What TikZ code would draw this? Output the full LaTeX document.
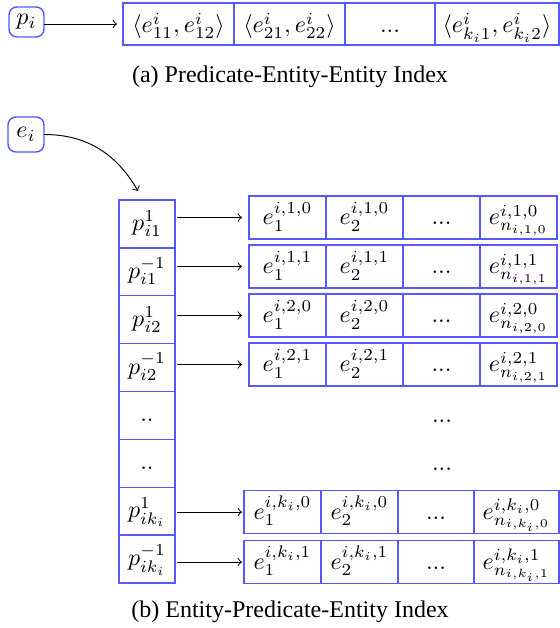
\documentclass[tikz,border=0pt]{standalone}
\usepackage[no-math]{fontspec}
\newfontfamily\capfont{Liberation Serif}
\newcommand\upx{0.41667pt}
\definecolor{bbl}{RGB}{88,88,255}
\begin{document}
\begin{tikzpicture}[x=\upx, y=-\upx,
  every node/.style={inner sep=0pt, outer sep=0pt},
  rbox/.style={draw=bbl, line width=0.6pt, rounded corners=3.3pt},
  cell/.style={draw=bbl, line width=0.6pt, anchor=west},
  tcell/.style={cell, minimum width=#1*\upx, minimum height=42*\upx, text height=10pt, text depth=2.5pt},
  ccell/.style={cell, anchor=north, minimum width=56*\upx, minimum height=47.875*\upx, text height=8pt, text depth=2.6pt},
  rcell/.style={cell, minimum width=#1*\upx, minimum height=43*\upx, text height=9pt, text depth=2.8pt},
  dotsnode/.style={text height=9pt, text depth=2.8pt},
  arr/.style={->, line width=0.4pt},
  captext/.style={font=\capfont}
]
\useasboundingbox (0,0) rectangle (560,628);

% ---------- (a) ----------
\node[rbox, minimum width=35*\upx, minimum height=30*\upx] (pi) at (26.5,22) {$p_i$};
\node[tcell=111] (a1) at (123,24) {$\langle e^i_{11}, e^i_{12}\rangle$};
\node[tcell=111] (a2) at (a1.east) {$\langle e^i_{21}, e^i_{22}\rangle$};
\node[tcell=90]  (a3) at (a2.east) {$...$};
\node[tcell=124] (a4) at (a3.east) {$\langle e^i_{k_i1}, e^i_{k_i2}\rangle$};
\draw[arr] (pi.east |- a1.west) -- ([xshift=-6*\upx]a1.west);
\node[captext] (capa) at (290,77) {(a) Predicate-Entity-Entity Index};

% ---------- (b) ----------
\node[rbox, minimum width=36*\upx, minimum height=35*\upx] (ei) at (26,134.5) {$e_i$};

\node[ccell] (c1) at (147,200) {$p^{1}_{i1}$};
\node[ccell] (c2) at (c1.south) {$p^{-1}_{i1}$};
\node[ccell] (c3) at (c2.south) {$p^{1}_{i2}$};
\node[ccell] (c4) at (c3.south) {$p^{-1}_{i2}$};
\node[ccell] (c5) at (c4.south) {$..$};
\node[ccell] (c6) at (c5.south) {$..$};
\node[ccell] (c7) at (c6.south) {$p^{1}_{ik_i}$};
\node[ccell] (c8) at (c7.south) {$p^{-1}_{ik_i}$};

\draw[arr] (ei.east) to[out=0,in=120] ([shift={(-9,-9)}]c1.north);

% rows 1-4
\node[rcell=77] (r1a) at (249,217.5) {$e_1^{i,1,0}$};
\node[rcell=77] (r1b) at (r1a.east) {$e_2^{i,1,0}$};
\node[rcell=77] (r1c) at (r1b.east) {$...$};
\node[rcell=77] (r1d) at (r1c.east) {$e_{n_{i,1,0}}^{i,1,0}$};

\node[rcell=77] (r2a) at (249,266.5) {$e_1^{i,1,1}$};
\node[rcell=77] (r2b) at (r2a.east) {$e_2^{i,1,1}$};
\node[rcell=77] (r2c) at (r2b.east) {$...$};
\node[rcell=77] (r2d) at (r2c.east) {$e_{n_{i,1,1}}^{i,1,1}$};

\node[rcell=77] (r3a) at (249,315.5) {$e_1^{i,2,0}$};
\node[rcell=77] (r3b) at (r3a.east) {$e_2^{i,2,0}$};
\node[rcell=77] (r3c) at (r3b.east) {$...$};
\node[rcell=77] (r3d) at (r3c.east) {$e_{n_{i,2,0}}^{i,2,0}$};

\node[rcell=77] (r4a) at (249,364.5) {$e_1^{i,2,1}$};
\node[rcell=77] (r4b) at (r4a.east) {$e_2^{i,2,1}$};
\node[rcell=77] (r4c) at (r4b.east) {$...$};
\node[rcell=77] (r4d) at (r4c.east) {$e_{n_{i,2,1}}^{i,2,1}$};

% dots rows
\node[dotsnode] (d5) at (442,415.5) {$...$};
\node[dotsnode] (d6) at (442,463.3) {$...$};

% rows 7-8
\node[rcell=77] (r7a) at (244,512) {$e_1^{i,k_i,0}$};
\node[rcell=77] (r7b) at (r7a.east) {$e_2^{i,k_i,0}$};
\node[rcell=76] (r7c) at (r7b.east) {$...$};
\node[rcell=85] (r7d) at (r7c.east) {$e_{n_{i,k_i,0}}^{i,k_i,0}$};

\node[rcell=77] (r8a) at (244,562) {$e_1^{i,k_i,1}$};
\node[rcell=77] (r8b) at (r8a.east) {$e_2^{i,k_i,1}$};
\node[rcell=76] (r8c) at (r8b.east) {$...$};
\node[rcell=85] (r8d) at (r8c.east) {$e_{n_{i,k_i,1}}^{i,k_i,1}$};

% arrows
\draw[arr] ([xshift=2*\upx]c1.east |- r1a.west) -- ([xshift=-7*\upx]r1a.west);
\draw[arr] ([xshift=2*\upx]c2.east |- r2a.west) -- ([xshift=-7*\upx]r2a.west);
\draw[arr] ([xshift=2*\upx]c3.east |- r3a.west) -- ([xshift=-7*\upx]r3a.west);
\draw[arr] ([xshift=2*\upx]c4.east |- r4a.west) -- ([xshift=-7*\upx]r4a.west);
\draw[arr] ([xshift=2*\upx]c7.east |- r7a.west) -- ([xshift=-2*\upx]r7a.west);
\draw[arr] ([xshift=2*\upx]c8.east |- r8a.west) -- ([xshift=-2*\upx]r8a.west);

\node[captext] (capb) at (290,612) {(b) Entity-Predicate-Entity Index};
\end{tikzpicture}
\end{document}
